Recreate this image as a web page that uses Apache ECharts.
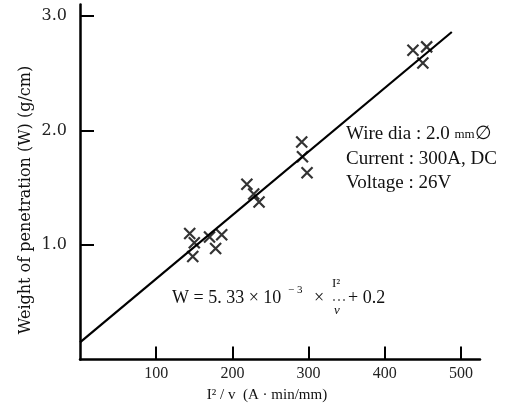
<!DOCTYPE html>
<html>
<head>
<meta charset="utf-8">
<script src="https://cdn.jsdelivr.net/npm/echarts@6/dist/echarts.min.js"></script>
<style>
  html, body { margin: 0; padding: 0; background: #fff; }
  #chart { width: 515px; height: 410px; }
</style>
</head>
<body>
<div id="chart"></div>
<script>
// measured points (I^2/v, W)
const pointsX = [144, 150, 148, 170, 186, 178, 219, 228, 235, 291, 292, 298, 437, 455, 450];
const pointsW = [1.10, 1.02, 0.90, 1.07, 1.09, 0.97, 1.53, 1.445, 1.375, 1.90, 1.77, 1.63, 2.70, 2.73, 2.59];

// fitted line as drawn
const lineX = [0, 488];
const lineW = [0.15, 2.86];

const xTicks = [100, 200, 300, 400, 500];
const yTicks = [1, 2, 3];

const serif = "Liberation Serif";

const chart = echarts.init(document.getElementById("chart"));

const option = {
    animation: false,
    backgroundColor: "#fff",
    grid: { left: 80, right: 35, top: 4.5, bottom: 50.5 },
    xAxis: {
        type: "value",
        min: 0,
        max: 525,
        name: "I² / v  (A · min/mm)",
        nameLocation: "middle",
        nameGap: 28,
        nameTextStyle: { fontFamily: serif, fontSize: 15, color: "#111", padding: [0, 26, 0, 0] },
        axisLine: { onZero: false, lineStyle: { color: "#000", width: 2.5 } },
        axisTick: { show: true, inside: true, length: 13, lineStyle: { color: "#000", width: 2 }, customValues: xTicks },
        axisLabel: { fontFamily: serif, fontSize: 16, color: "#222", margin: 6, customValues: xTicks },
        splitLine: { show: false },
    },
    yAxis: {
        type: "value",
        min: 0,
        max: 3.1,
        axisLine: { onZero: false, lineStyle: { color: "#000", width: 2.5 } },
        axisTick: { show: true, inside: true, length: 14, lineStyle: { color: "#000", width: 2 }, customValues: yTicks },
        axisLabel: {
            fontFamily: "DejaVu Serif",
            fontSize: 16,
            color: "#222",
            margin: 13,
            customValues: yTicks,
            formatter: (v) => v.toFixed(1),
        },
        splitLine: { show: false },
    },
    series: [
        {
            name: "fit",
            type: "line",
            data: lineX.map((x, i) => [x, lineW[i]]),
            symbol: "none",
            lineStyle: { color: "#000", width: 2.2 },
            z: 2,
        },
        {
            name: "measured",
            type: "scatter",
            data: pointsX.map((x, i) => [x, pointsW[i]]),
            symbol: "path://M0,0L10,10M10,0L0,10",
            symbolSize: 11,
            itemStyle: { color: "rgba(0,0,0,0)", borderColor: "#000", borderWidth: 2.2 },
            z: 3,
        },
    ],
    graphic: [
        // y axis title, rotated
        {
            type: "text",
            x: 26,
            y: 200,
            rotation: Math.PI / 2,
            style: {
                text: "Weight of penetration (W) (g/cm)",
                font: "16px DejaVu Serif",
                fill: "#111",
                align: "center",
                verticalAlign: "middle",
            },
        },
        {
            type: "text",
            left: 346,
            top: 122,
            style: {
                text: "Wire dia : 2.0 {s|mm}∅\nCurrent : 300A, DC\nVoltage : 26V",
                font: "19px " + serif,
                fill: "#111",
                lineHeight: 24.5,
                rich: { s: { fontSize: 13, fontFamily: serif, fill: "#111", lineHeight: 24.5 } },
            },
        },
        // equation W = 5.33 x 10^-3 x I^2/v + 0.2
        {
            type: "text",
            left: 172,
            top: 289,
            style: { text: "W = 5. 33 × 10", font: "18px " + serif, fill: "#111" },
        },
        {
            type: "text",
            left: 288,
            top: 285,
            style: { text: "− 3", font: "11px " + serif, fill: "#111" },
        },
        {
            type: "text",
            left: 314,
            top: 289,
            style: { text: "×", font: "18px " + serif, fill: "#111" },
        },
        {
            type: "text",
            left: 332,
            top: 277,
            style: { text: "I²", font: "13px " + serif, fill: "#111" },
        },
        {
            type: "line",
            shape: { x1: 333, y1: 300, x2: 345, y2: 300 },
            style: { stroke: "#111", lineWidth: 1, lineDash: [2, 3] },
        },
        {
            type: "text",
            left: 334,
            top: 304,
            style: { text: "v", font: "italic 13px " + serif, fill: "#111" },
        },
        {
            type: "text",
            left: 348,
            top: 289,
            style: { text: "+ 0.2", font: "18px " + serif, fill: "#111" },
        },
    ],
};

chart.setOption(option);
</script>
</body>
</html>
